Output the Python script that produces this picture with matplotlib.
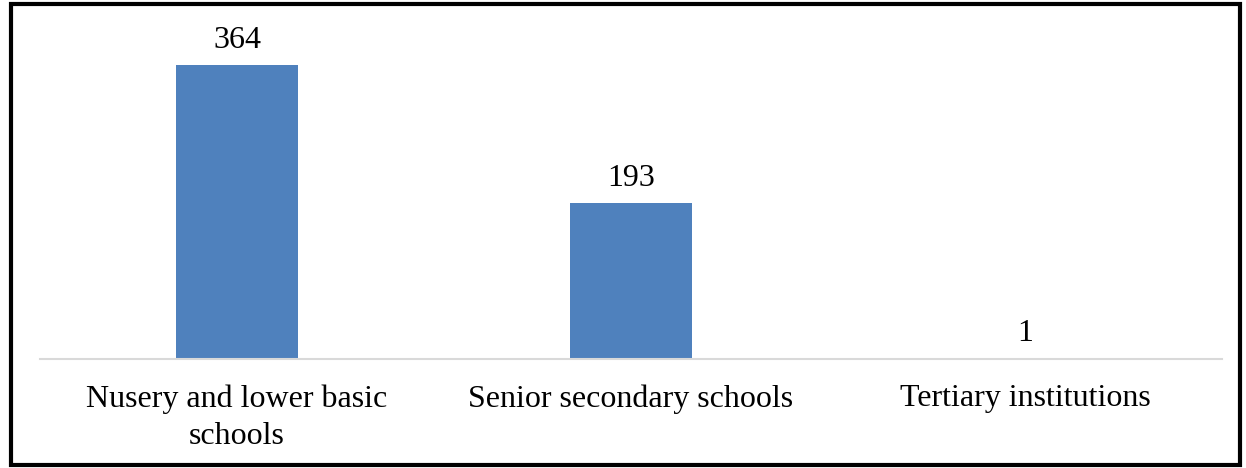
import matplotlib as mpl
import matplotlib.pyplot as plt
from matplotlib.patches import Rectangle

mpl.rcParams['font.family'] = 'serif'
mpl.rcParams['font.serif'] = ['Liberation Serif', 'DejaVu Serif']
mpl.rcParams['font.size'] = 23

categories = ['Nusery and lower basic\nschools', 'Senior secondary schools', 'Tertiary institutions']
values = [364, 193, 1]

fig = plt.figure(figsize=(12.46, 4.68), dpi=100)
ax = fig.add_axes([40/1246, (468-359)/468, 1182/1246, 323/468])

x = range(len(values))
bars = ax.bar(x, values, width=0.31, color='#4F81BD')
ax.set_xlim(-0.5, 2.5)
ax.set_ylim(0, 400)

for b, v in zip(bars, values):
    ax.annotate(str(v), (b.get_x() + b.get_width()/2, v), xytext=(0, 7),
                textcoords='offset points', ha='center', va='bottom')

ax.set_xticks(list(x))
ax.set_xticklabels(categories, linespacing=1.4)
ax.tick_params(axis='x', length=0, pad=18)
ax.set_yticks([])
for s in ['top', 'right', 'left']:
    ax.spines[s].set_visible(False)
ax.spines['bottom'].set_color('#d9d9d9')
ax.spines['bottom'].set_linewidth(1.5)

# outer frame
fig.patches.append(Rectangle((11/1246, 3/468), 1229/1246, 461/468, transform=fig.transFigure,
                             fill=False, edgecolor='black', linewidth=3))

plt.savefig('out.png', dpi=100)
